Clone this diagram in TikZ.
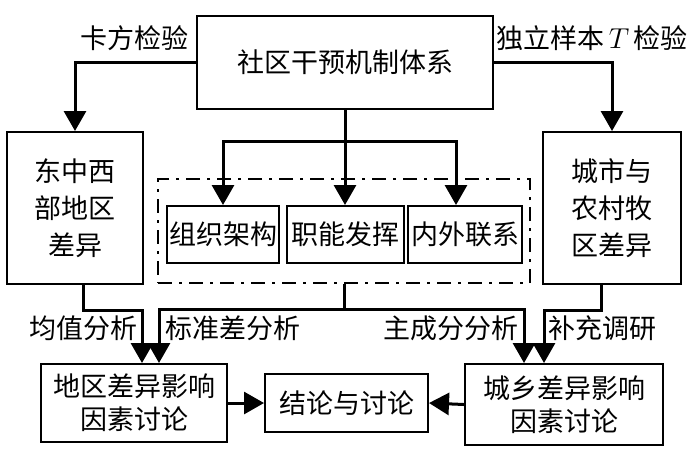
\documentclass[tikz,border=0pt]{standalone}
\usepackage{fontspec}
\usepackage{tikz}
\usetikzlibrary{arrows.meta,calc}
\newfontfamily\cjk{Noto Sans CJK SC}
\tikzset{
    flow-box/.style = {draw, line width=1pt, rectangle, inner sep=1pt, align=center, font=\cjk\fontsize{13.5}{16.5}\selectfont},
    side-box/.style = {flow-box, font=\cjk\fontsize{13.5}{18.5}\selectfont},
    group-box/.style = {draw, line width=1pt, rectangle, dash pattern=on 7pt off 3.5pt on 1.5pt off 3.5pt},
    flow-arrow/.style = {line width=1.5pt, -{Triangle[length=10pt,width=11pt]}},
    flow-label/.style = {inner sep=0pt, font=\cjk\fontsize{13.5}{16}\selectfont},
}
\begin{document}
\begin{tikzpicture}[x=0.5pt,y=-0.5pt]
\useasboundingbox (0,0) rectangle (700,452);
% boxes
\node [flow-box, minimum width=148pt, minimum height=46.5pt] (top) at (345,62.5) {社区干预机制体系};
\node [side-box, minimum width=68pt, minimum height=76pt] (region) at (75,208) {东中西\\部地区\\差异};
\node [side-box, minimum width=69pt, minimum height=76pt] (urban) at (612,208) {城市与\\农村牧\\区差异};
\node [group-box, minimum width=186pt, minimum height=52pt] (group) at (344,231) {};
\node [flow-box, minimum width=56pt, minimum height=28.5pt] (org) at (223,234.5) {组织架构};
\node [flow-box, minimum width=58.5pt, minimum height=28.5pt] (func) at (345,234.5) {职能发挥};
\node [flow-box, minimum width=57pt, minimum height=28.5pt] (link) at (465,234.5) {内外联系};
\node [flow-box, minimum width=93pt, minimum height=39pt] (regionfac) at (134,403) {地区差异影响\\因素讨论};
\node [flow-box, minimum width=99pt, minimum height=40.5pt] (urbanfac) at (564,404.5) {城乡差异影响\\因素讨论};
\node [flow-box, minimum width=81.5pt, minimum height=29pt] (concl) at (346.5,403) {结论与讨论};
% connectors
\draw [flow-arrow] (top.west) -| (region.north);
\draw [flow-arrow] (top.east) -| (urban.north);
\draw [flow-arrow] (top.south) -- ++(0,31) coordinate (split) -| (org.north);
\draw [flow-arrow] (split) -- (func.north);
\draw [flow-arrow] (split) -| ($(link.north)+(-9,0)$);
\draw [flow-arrow] ($(region.south)+(8,0)$) -- ++(0,25) -| ($(regionfac.north)+(8,0)$);
\draw [flow-arrow] (group.south) -- ++(0,25) coordinate (fork) -| ($(regionfac.north)+(25,0)$);
\draw [flow-arrow] (fork) -| ($(urbanfac.north)+(-40,0)$);
\draw [flow-arrow] ($(urban.south)+(-11,0)$) -- ++(0,25) -| ($(urbanfac.north)+(-20,0)$);
\draw [flow-arrow] (regionfac.east) -- (concl.west);
\draw [flow-arrow] (urbanfac.west) -- (concl.east);
% labels
\node [flow-label] (chi) at (134,38) {卡方检验};
\node [flow-label] (ttest) at (592,38) {独立样本\,$T$\,检验};
\node [flow-label] (mean) at (83,328) {均值分析};
\node [flow-label] (std) at (233,328) {标准差分析};
\node [flow-label] (pca) at (451,328) {主成分分析};
\node [flow-label] (survey) at (602,328) {补充调研};
\end{tikzpicture}
\end{document}
